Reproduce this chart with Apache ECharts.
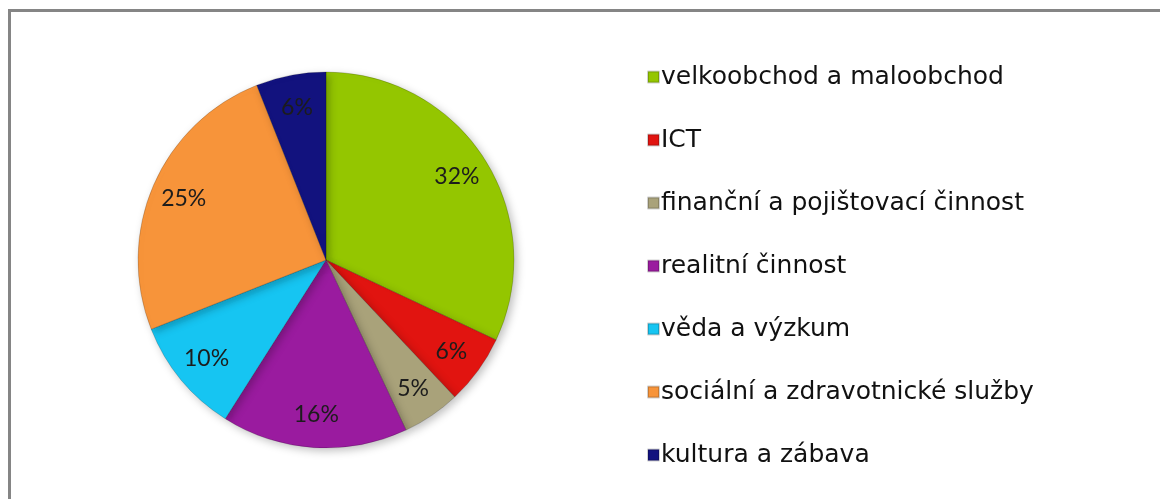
<!DOCTYPE html>
<html>
<head>
<meta charset="utf-8">
<script src="https://cdn.jsdelivr.net/npm/echarts@6/dist/echarts.min.js"></script>
<style>
  html, body { margin: 0; padding: 0; background: #fff; overflow: hidden; }
  #frame { position: absolute; left: 8px; top: 9px; width: 1300px; height: 700px; border: 3px solid #858585; box-sizing: border-box; }
  #chart { position: absolute; left: 0; top: 0; width: 1160px; height: 499px; }
</style>
</head>
<body>
<div id="frame"></div>
<div id="chart"></div>
<script>
// odvětví a podíly (%)
const categories = [
  "velkoobchod a maloobchod",
  "ICT",
  "finanční a pojištovací činnost",
  "realitní činnost",
  "věda a výzkum",
  "sociální a zdravotnické služby",
  "kultura a zábava"
];
const shares = [32, 6, 5, 16, 10, 25, 6];
const colors = ["#94C600", "#E11410", "#A9A27A", "#9A1B9F", "#16C5F2", "#F7943A", "#12127E"];

const chart = echarts.init(document.getElementById("chart"));

const pieData = categories.map((name, i) => ({ name, value: shares[i] }));

const option = {
  animation: false,
  color: colors,
  legend: {
    orient: "vertical",
    left: 642,
    top: 59,
    itemWidth: 11,
    itemHeight: 11,
    itemGap: 37,
    icon: "rect",
    selectedMode: false,
    textStyle: {
      fontFamily: "DejaVu Sans",
      fontSize: 25,
      lineHeight: 26,
      color: "#111",
      padding: [0, 0, 0, -3]
    },
    data: categories
  },
  series: [
    {
      type: "pie",
      center: [326, 260],
      radius: [0, 188],
      startAngle: 90,
      clockwise: true,
      silent: true,
      label: { show: false },
      labelLine: { show: false },
      itemStyle: {
        borderColor: "rgba(0,0,0,0.18)",
        borderWidth: 1,
        shadowBlur: 8,
        shadowOffsetX: 3,
        shadowOffsetY: 3,
        shadowColor: "rgba(0,0,0,0.25)"
      },
      data: pieData
    },
    {
      // jen popisky, posunuté blíže k okraji
      type: "pie",
      center: [326, 260],
      radius: [116, 188],
      startAngle: 90,
      clockwise: true,
      silent: true,
      itemStyle: { color: "transparent" },
      label: {
        show: true,
        position: "inside",
        formatter: "{c}%",
        fontFamily: "Lato",
        fontSize: 23,
        color: "#1c1c1c"
      },
      labelLine: { show: false },
      data: pieData
    }
  ]
};

chart.setOption(option);
</script>
</body>
</html>
